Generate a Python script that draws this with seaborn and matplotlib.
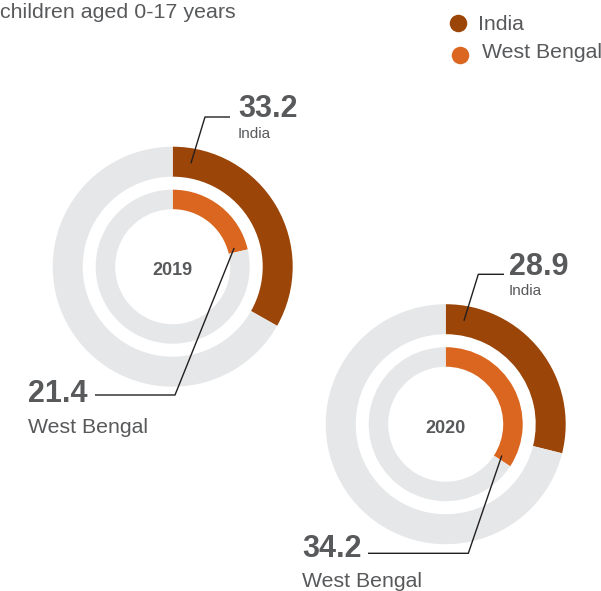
import numpy as np
import matplotlib
matplotlib.use("Agg")
import matplotlib.pyplot as plt
import seaborn as sns

# data
years = ["2019", "2020"]
regions = ["India", "West Bengal"]
india = [33.2, 28.9]
west_bengal = [21.4, 34.2]

colors = {"India": "#9B4608", "West Bengal": "#DB661F"}
grey_ring = "#E6E7E8"
text_grey = "#58595B"

sns.set_theme(style="white")
plt.rcParams["font.family"] = ["Liberation Sans", "DejaVu Sans"]

W, H = 601, 591
fig = plt.figure(figsize=(W / 100, H / 100), dpi=100)
ax = fig.add_axes([0, 0, 1, 1])


def py(y):
    # pixel row (from top) -> data y
    return H - y


# layout of each donut (pixel coords)
layout = [
    {"cx": 172.7, "cy": 266.7,
     "india_lbl": (238, 117), "india_knee": (205, 117), "india_end": 230, "india_gap": 21,
     "wb_lbl": (28, 401.7), "wb_knee": (175, 395), "wb_end": 95, "wb_gap": 31.6},
    {"cx": 445.7, "cy": 424.2,
     "india_lbl": (509, 275), "india_knee": (478.3, 274.3), "india_end": 504, "india_gap": 20,
     "wb_lbl": (302, 556.7), "wb_knee": (468.3, 553.3), "wb_end": 368, "wb_gap": 30},
]
R_OUT, W_OUT = 120, 30
R_IN, W_IN = 77, 19.5


def anchor(cx, cy, r, deg):
    a = np.deg2rad(deg)
    return cx + r * np.sin(a), cy - r * np.cos(a)


for i, year in enumerate(years):
    L = layout[i]
    c = (L["cx"], py(L["cy"]))
    ax.pie([india[i], 100 - india[i]], colors=[colors["India"], grey_ring],
           startangle=90, counterclock=False, center=c, radius=R_OUT,
           wedgeprops=dict(width=W_OUT, linewidth=0))
    ax.pie([west_bengal[i], 100 - west_bengal[i]], colors=[colors["West Bengal"], grey_ring],
           startangle=90, counterclock=False, center=c, radius=R_IN,
           wedgeprops=dict(width=W_IN, linewidth=0))
    ax.text(c[0], c[1] - 4, year, ha="center", va="center", fontsize=13,
            fontweight="bold", color=text_grey)

    # India leader + label
    ax0, ay0 = anchor(L["cx"], L["cy"], R_OUT - W_OUT / 2, 10)
    kx, ky = L["india_knee"]
    ax.plot([ax0, kx, L["india_end"]], [py(ay0), py(ky), py(ky)],
            color="#231F20", lw=1, solid_capstyle="butt")
    lx, ly = L["india_lbl"]
    ax.text(lx, py(ly), f"{india[i]}", ha="left", va="baseline", fontsize=22,
            fontweight="bold", color=text_grey)
    ax.text(lx, py(ly + L["india_gap"]), "India", ha="left", va="baseline",
            fontsize=11, color=text_grey)

    # West Bengal leader + label
    ax1, ay1 = anchor(L["cx"], L["cy"], R_IN - W_IN / 2 - 3, west_bengal[i] * 3.6 - 4)
    kx, ky = L["wb_knee"]
    ax.plot([ax1, kx, L["wb_end"]], [py(ay1), py(ky), py(ky)],
            color="#231F20", lw=1, solid_capstyle="butt")
    lx, ly = L["wb_lbl"]
    ax.text(lx, py(ly), f"{west_bengal[i]}", ha="left", va="baseline", fontsize=22,
            fontweight="bold", color=text_grey)
    ax.text(lx, py(ly + L["wb_gap"]), "West Bengal", ha="left", va="baseline",
            fontsize=15.3, color=text_grey)

# title (cut at the top in the original)
ax.text(0, py(18.3), "children aged 0-17 years", ha="left", va="baseline",
        fontsize=15.4, color=text_grey)

# legend
legend_rows = [(458, 23.3, 478.3, 22), (460, 55, 481.7, 51)]
for name, (mx, my, tx, ty) in zip(regions, legend_rows):
    ax.plot([mx], [py(my)], marker="o", ms=12.6, color=colors[name], mec="none")
    ax.text(tx, py(ty), name, ha="left", va="center_baseline", fontsize=15.3,
            color=text_grey)

ax.set_xlim(0, W)
ax.set_ylim(0, H)
ax.set_aspect("equal")
ax.axis("off")

fig.savefig("out.png", dpi=100)
